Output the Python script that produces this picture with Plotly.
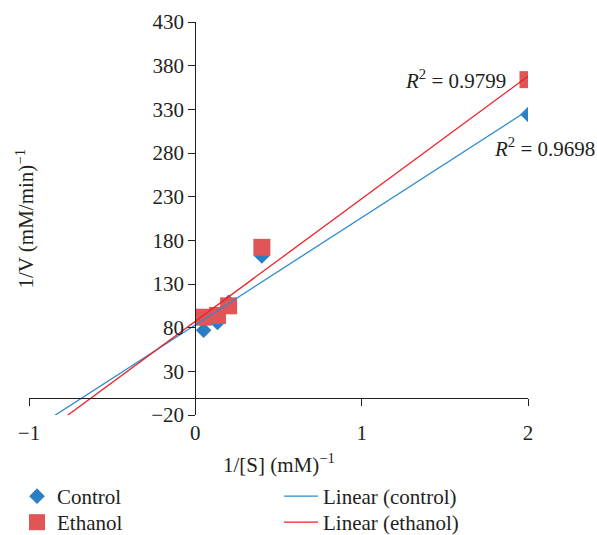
import numpy as np
import plotly.graph_objects as go

# ---- data ----
inv_s = [0.05, 0.133, 0.2, 0.4, 2.0]          # 1/[S] (mM)^-1
control = [77, 86, 109, 162, 324]             # 1/V, control
ethanol = [92, 94, 105, 172, 364]             # 1/V, ethanol
r2_control = "0.9698"
r2_ethanol = "0.9799"
x_ticks = [-1, 0, 1, 2]
y_ticks = [-20, 30, 80, 130, 180, 230, 280, 330, 380, 430]
x_range = [-1, 2]
y_range = [-20, 430]
fit_start = -0.9   # backward forecast of the trend lines

FONT = "Liberation Serif"
TXT = "#231F20"
BLUE_M = "#2A7EC2"
BLUE_L = "#2F8BD0"
RED_M = "#E05555"
RED_L = "#EE2028"

W, H = 597, 535
ML, MR, MT, MB = 29, 69, 22, 120
PW, PH = W - ML - MR, H - MT - MB


def px_x(px):
    return (px - ML) / PW


def px_y(py):
    return (H - MB - py) / PH


def trend(x, y):
    m, b = np.polyfit(x, y, 1)
    xs = np.array([fit_start, max(x)])
    return xs, m * xs + b


fig = go.Figure()
fig.add_trace(go.Scatter(
    x=inv_s, y=control, mode="markers", name="Control", legend="legend",
    marker=dict(symbol="diamond", size=12, color=BLUE_M, line=dict(width=0))))
fig.add_trace(go.Scatter(
    x=inv_s, y=ethanol, mode="markers", name="Ethanol", legend="legend2",
    marker=dict(symbol="square", size=17, color=RED_M, line=dict(width=0))))
xs, ys = trend(inv_s, control)
fig.add_trace(go.Scatter(
    x=xs, y=ys, mode="lines", name="Linear (control)", legend="legend3",
    line=dict(color=BLUE_L, width=1.3)))
xs, ys = trend(inv_s, ethanol)
fig.add_trace(go.Scatter(
    x=xs, y=ys, mode="lines", name="Linear (ethanol)", legend="legend4",
    line=dict(color=RED_L, width=1.3)))

leg_common = dict(
    orientation="v", xref="paper", yref="paper",
    xanchor="left", yanchor="top",
    font=dict(family=FONT, size=21, color=TXT),
    bgcolor="rgba(0,0,0,0)",
)
ROW1, ROW2 = 476, 502
COL1, COL2 = 17, 279

fig.update_layout(
    width=W, height=H,
    margin=dict(l=ML, r=MR, t=MT, b=MB, autoexpand=False),
    paper_bgcolor="white", plot_bgcolor="white",
    font=dict(family=FONT, size=21, color=TXT),
    showlegend=True,
    legend=dict(x=px_x(COL1), y=px_y(ROW1), **leg_common),
    legend2=dict(x=px_x(COL1), y=px_y(ROW2), **leg_common),
    legend3=dict(x=px_x(COL2), y=px_y(ROW1), itemwidth=34, **leg_common),
    legend4=dict(x=px_x(COL2), y=px_y(ROW2), itemwidth=34, **leg_common),
    xaxis=dict(
        range=x_range, tickvals=x_ticks, ticktext=[str(v).replace("-", "\u2212") for v in x_ticks],
        anchor="free", position=(0 - y_range[0]) / (y_range[1] - y_range[0]),
        showline=True, linecolor=TXT, linewidth=1.3,
        ticks="outside", ticklen=7, tickwidth=1.3, tickcolor=TXT,
        showgrid=False, zeroline=False, ticklabelstandoff=9,
        tickfont=dict(family=FONT, size=21, color=TXT),
    ),
    yaxis=dict(
        range=y_range, tickvals=y_ticks, ticktext=[str(v).replace("-", "\u2212") for v in y_ticks],
        anchor="free", position=(0 - x_range[0]) / (x_range[1] - x_range[0]),
        showline=True, linecolor=TXT, linewidth=1.3,
        ticks="outside", ticklen=7, tickwidth=1.3, tickcolor=TXT,
        showgrid=False, zeroline=False,
        tickfont=dict(family=FONT, size=21, color=TXT),
    ),
    annotations=[
        dict(text="1/V (mM/min)<sup>\u22121</sup>", xref="paper", x=px_x(25),
             yref="paper", y=0.5, textangle=-90, showarrow=False,
             xanchor="center", yanchor="middle", font=dict(size=21)),
        dict(text="1/[S] (mM)<sup>\u22121</sup>", xref="paper", x=0.5,
             yref="paper", y=px_y(463), showarrow=False,
             xanchor="center", yanchor="middle", font=dict(size=21)),
        dict(text="<i>R</i><sup>2</sup> = " + r2_ethanol, xref="x", x=inv_s[-1],
             yref="y", y=ethanol[-1], xanchor="right", yanchor="middle",
             xshift=-20, showarrow=False, font=dict(size=21)),
        dict(text="<i>R</i><sup>2</sup> = " + r2_control, xref="x", x=inv_s[-1],
             yref="y", y=control[-1], xanchor="left", yanchor="middle",
             xshift=-36, yshift=-33, showarrow=False, font=dict(size=21)),
    ],
)

fig.write_html("out.html", config={"displayModeBar": False},
               post_script="document.body.style.margin='0';")
